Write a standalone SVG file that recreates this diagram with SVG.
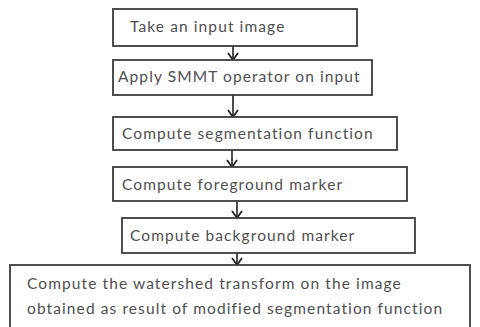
<svg xmlns="http://www.w3.org/2000/svg" width="480" height="327" viewBox="0 0 480 327">
  <defs>
    <!-- open chevron head, drawn pointing along +x so orient="auto" turns it downward -->
    <marker id="vhead" markerWidth="10" markerHeight="12" refX="8" refY="6" orient="auto" markerUnits="userSpaceOnUse" viewBox="0 0 10 12">
      <path d="M1,1 L8,6 L1,11" fill="none" stroke="#222" stroke-width="1.8"/>
    </marker>
  </defs>
  <style>
    .box { fill: #ffffff; stroke: #3c3c3c; stroke-width: 1.8; }
    .lbl { font-family: Lato, "Liberation Sans", sans-serif; font-size: 15.5px; fill: #4f4f4f; letter-spacing: 1.1px; }
    .edge { stroke: #222; stroke-width: 1.6; fill: none; marker-end: url(#vhead); }
  </style>
  <rect width="480" height="327" fill="#ffffff"/>

  <g id="connectors">
    <line class="edge" x1="233" y1="46" x2="233" y2="60"/>
    <line class="edge" x1="233" y1="95" x2="233" y2="117"/>
    <line class="edge" x1="232" y1="150" x2="232" y2="167"/>
    <line class="edge" x1="237" y1="201" x2="237" y2="218"/>
    <line class="edge" x1="237" y1="253" x2="237" y2="265"/>
  </g>

  <g id="step1">
    <rect class="box" x="113" y="9" width="244" height="37"/>
    <text class="lbl" x="130" y="32">Take an input image</text>
  </g>
  <g id="step2">
    <rect class="box" x="113" y="60" width="259" height="35"/>
    <text class="lbl" x="118" y="82">Apply SMMT operator on input</text>
  </g>
  <g id="step3">
    <rect class="box" x="113" y="117" width="284" height="33"/>
    <text class="lbl" x="122" y="139">Compute segmentation function</text>
  </g>
  <g id="step4">
    <rect class="box" x="113" y="167" width="294" height="34"/>
    <text class="lbl" x="122" y="190">Compute foreground marker</text>
  </g>
  <g id="step5">
    <rect class="box" x="122" y="218" width="293" height="35"/>
    <text class="lbl" x="130" y="241">Compute background marker</text>
  </g>
  <g id="step6">
    <rect class="box" x="10" y="265" width="460" height="64"/>
    <text class="lbl" x="27" y="289">Compute the watershed transform on the image</text>
    <text class="lbl" x="27" y="314">obtained as result of modified segmentation function</text>
  </g>
</svg>
